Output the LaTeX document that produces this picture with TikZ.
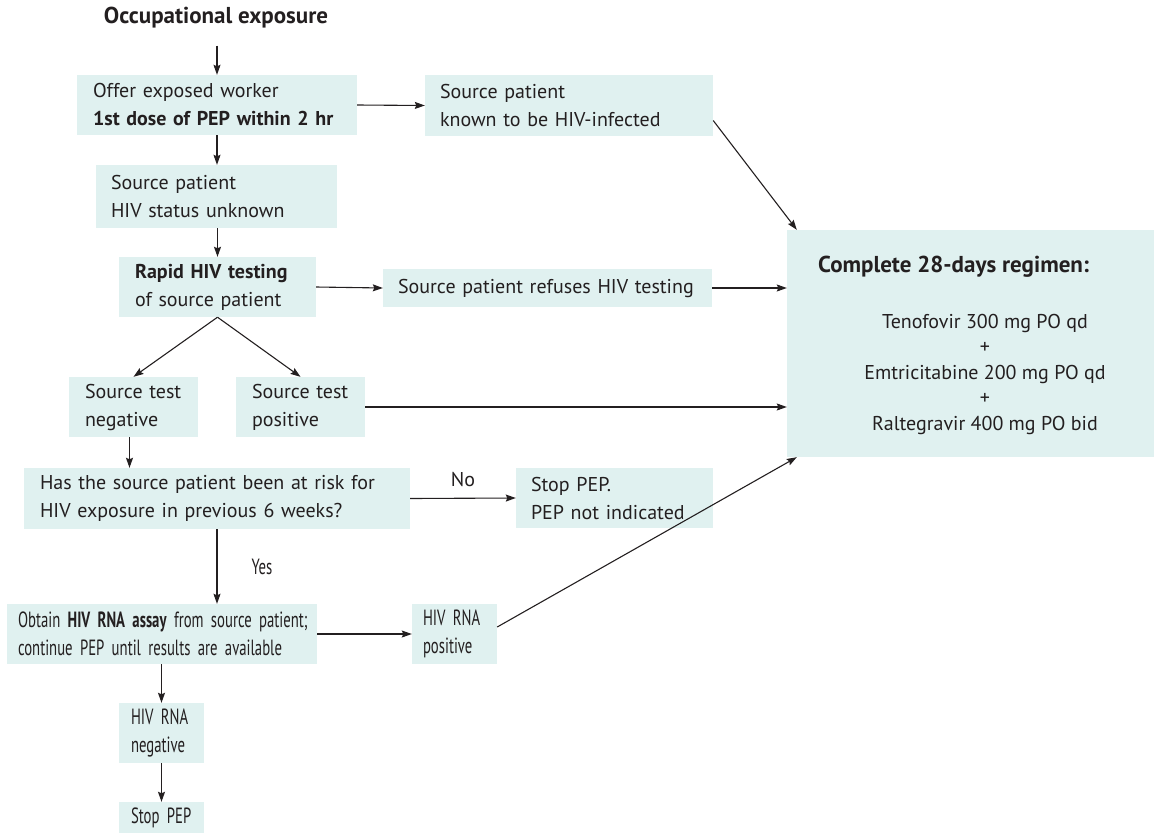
\documentclass[tikz,border=0pt]{standalone}
\usepackage{fontspec}
\setmainfont{PT Sans}
\newfontfamily\narrowfont[FakeStretch=0.67,WordSpace=0.8]{PT Sans}
\usetikzlibrary{arrows.meta,calc}
\definecolor{boxfill}{RGB}{224,241,240}
\definecolor{ink}{RGB}{35,31,32}
\newcommand\oneline[1]{\mbox{#1}}
\tikzset{
  box/.style={fill=boxfill, draw=none, inner sep=0pt, align=left, font=\fontsize{20}{28}\selectfont, text=ink},
  nbox/.style={box, font=\narrowfont\fontsize{22}{28}\selectfont},
  lbl/.style={inner sep=0pt, font=\fontsize{20}{28}\selectfont, text=ink},
  arr/.style={draw=ink, line width=1.1pt, -{Stealth[length=10pt,width=7pt,inset=1.5pt]}}
}
\begin{document}
\begin{tikzpicture}[x=1pt,y=-1pt]
\useasboundingbox (0,0) rectangle (1154,833);
% nodes
\node[lbl, font=\bfseries\fontsize{23}{28}\selectfont] (occ) at (216,18) {Occupational exposure};
\node[box, minimum width=280pt, minimum height=60pt, text width=248pt] (offer) at (217,105) {\oneline{Offer exposed worker}\\\oneline{\textbf{1st dose of PEP within 2 hr}}};
\node[box, minimum width=288pt, minimum height=61pt, text width=258pt] (known) at (569,105.5) {\oneline{Source patient}\\\oneline{known to be HIV-infected}};
\node[box, minimum width=241pt, minimum height=63pt, text width=211pt] (unk) at (216.5,196.5) {\oneline{Source patient}\\\oneline{HIV status unknown}};
\node[box, minimum width=197pt, minimum height=60pt, text width=165pt] (rapid) at (217.5,287) {\oneline{\textbf{Rapid HIV testing}}\\\oneline{of source patient}};
\node[box, minimum width=329pt, minimum height=38pt, text width=299pt] (ref) at (547.5,288) {\oneline{Source patient refuses HIV testing}};
\node[box, minimum width=367pt, minimum height=227pt] (comp) at (970.5,343.5) {};
\node[lbl, anchor=west, font=\bfseries\fontsize{23}{28}\selectfont] (ctitle) at (818,267) {Complete 28-days regimen:};
\node[lbl, align=center, font=\fontsize{20}{25.5}\selectfont] (creg) at (985,374) {Tenofovir 300 mg PO qd\\+\\Emtricitabine 200 mg PO qd\\+\\Raltegravir 400 mg PO bid};
\node[box, minimum width=129pt, minimum height=60pt, text width=97pt] (neg) at (133.5,407) {\oneline{Source test}\\\oneline{negative}};
\node[box, minimum width=129pt, minimum height=60pt, text width=97pt] (pos) at (300.5,407) {\oneline{Source test}\\\oneline{positive}};
\node[box, minimum width=386pt, minimum height=61pt, text width=354pt] (q) at (217,498.5) {\oneline{Has the source patient been at risk for}\\\oneline{HIV exposure in previous 6 weeks?}};
\node[box, minimum width=197pt, minimum height=60pt, text width=167pt] (stopni) at (614.5,498) {\oneline{Stop PEP.}\\\oneline{PEP not indicated}};
\node[nbox, minimum width=310pt, minimum height=60pt, text width=288pt] (obt) at (162,634) {\oneline{Obtain \textbf{HIV RNA assay} from source patient;}\\\oneline{continue PEP until results are available}};
\node[nbox, minimum width=85pt, minimum height=60pt, text width=63pt] (rpos) at (454.5,634) {\oneline{HIV RNA}\\\oneline{positive}};
\node[nbox, minimum width=85pt, minimum height=60pt, text width=61pt] (rneg) at (161.5,733) {\oneline{HIV RNA}\\\oneline{negative}};
\node[nbox, minimum width=85pt, minimum height=31pt, text width=61pt] (stop) at (161.5,817.5) {\oneline{Stop PEP}};
\node[lbl] (no) at (463,480) {No};
\node[lbl, font=\narrowfont\fontsize{22}{28}\selectfont] (yes) at (262,567) {Yes};
% connectors
\coordinate (ostart) at ([yshift=-17pt]occ.south -| offer.north);
\draw[arr] (ostart) -- (offer.north);
\draw[arr] (offer.east) -- (known.west);
\draw[arr] (offer.south) -- (unk.north -| offer.south);
\coordinate (kstart) at ([yshift=-15pt]known.east);
\coordinate (ctl) at ([xshift=10pt]comp.north west);
\draw[arr] (kstart) -- (ctl);
\draw[arr] (unk.south -| rapid.north) -- (rapid.north);
\draw[arr] (rapid.east) -- (ref.west);
\draw[arr] (ref.east) -- (ref.east -| comp.west);
\draw[arr] (rapid.south) -- (neg.north);
\draw[arr] (rapid.south) -- (pos.north);
\draw[arr] (pos.east) -- (pos.east -| comp.west);
\coordinate (nstart) at ([xshift=-4pt]neg.south);
\draw[arr] (nstart) -- (nstart |- q.north);
\draw[arr] (q.east) -- (stopni.west);
\draw[arr] (q.south) -- (q.south |- obt.north);
\draw[arr] (obt.east) -- (rpos.west);
\coordinate (rstart) at ([yshift=7pt]rpos.east);
\coordinate (cbl) at ([xshift=10pt]comp.south west);
\draw[arr] (rstart) -- (cbl);
\draw[arr] (obt.south -| rneg.north) -- (rneg.north);
\draw[arr] (rneg.south) -- (stop.north);
\end{tikzpicture}
\end{document}
